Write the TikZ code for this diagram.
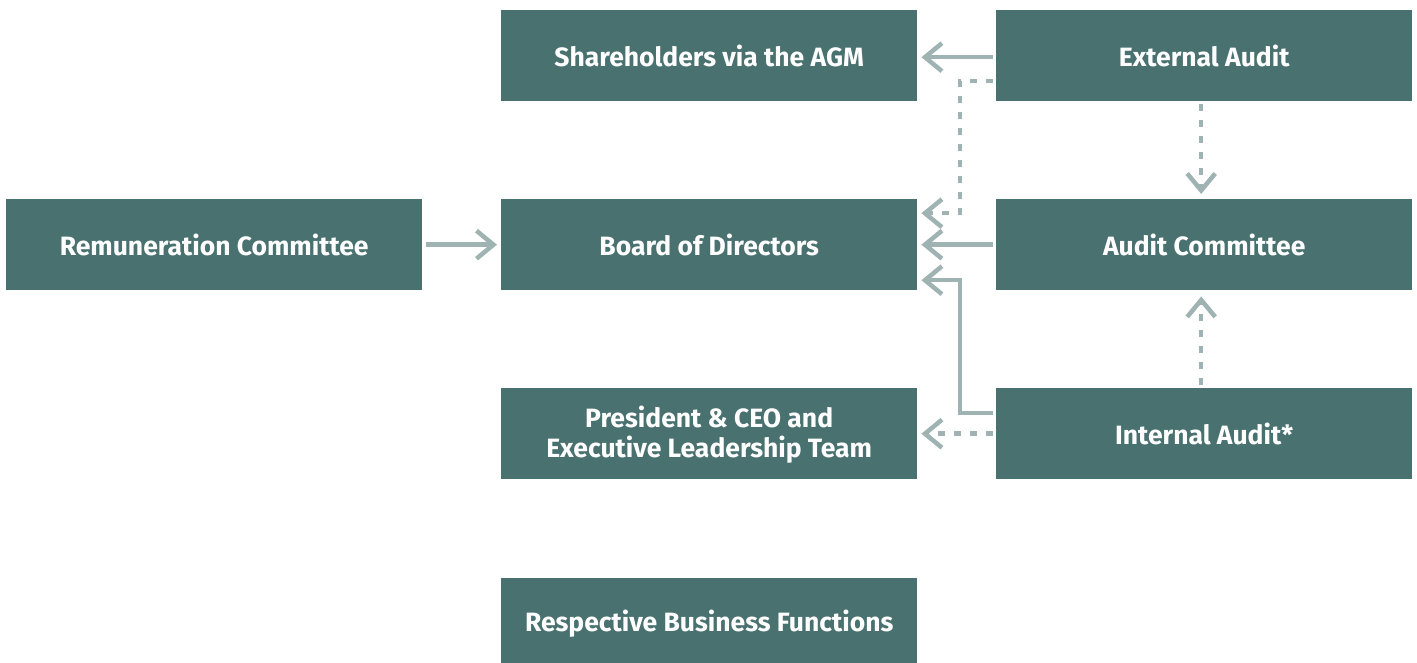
\documentclass[tikz,border=0pt]{standalone}
\usepackage{fontspec}
\setmainfont{Fira Sans}
\usetikzlibrary{arrows.meta,positioning,calc}
\definecolor{boxfill}{HTML}{497170}
\definecolor{arrowcol}{HTML}{9FB3B3}
\begin{document}
\begin{tikzpicture}[x=1pt,y=-1pt,
  orgbox/.style={fill=boxfill,text=white,minimum width=416pt,minimum height=91pt,inner sep=0pt,
    font=\fontsize{26.5}{30}\selectfont\bfseries,align=center,anchor=north west},
  conn/.style={draw=arrowcol,line width=4.5pt,-{Straight Barb[length=17pt,width=28pt,line width=4.5pt]}},
  dconn/.style={conn,dash pattern=on 7pt off 9pt}]
\useasboundingbox (0,0) rectangle (1417,663);
\clip (0,0) rectangle (1417,663);
\node[orgbox] (share) at (501,10) {Shareholders via the AGM};
\node[orgbox] (ext) at (996,10) {External Audit};
\node[orgbox] (rem) at (6,199) {Remuneration Committee};
\node[orgbox] (board) at (501,199) {Board of Directors};
\node[orgbox] (audit) at (996,199) {Audit Committee};
\node[orgbox] (pres) at (501,388) {\rule{0pt}{24pt}President \& CEO and\\Executive Leadership Team};
\node[orgbox] (int) at (996,388) {Internal Audit*};
\node[orgbox] (resp) at (501,578) {Respective Business Functions};
% connectors
\draw[conn] ([xshift=-3pt,yshift=-1.5pt]ext.west) -- ([xshift=4pt,yshift=-1.5pt]share.east);
\draw[dconn] ([xshift=-3pt,yshift=-25.5pt]ext.west) -- ++(-33,0) |- ([xshift=4pt,yshift=31.5pt]board.east);
\draw[dconn] ([xshift=-3pt,yshift=-3pt]ext.south) -- ([xshift=-3pt,yshift=5pt]audit.north);
\draw[conn] ([xshift=-3pt]audit.west) -- ([xshift=4pt]board.east);
\draw[conn] ([xshift=4pt]rem.east) -- ([xshift=-4pt]board.west);
\draw[conn] ([xshift=-3pt,yshift=20.5pt]int.west) -- ++(-33,0) |- ([xshift=4pt,yshift=-35.5pt]board.east);
\draw[dconn] ([xshift=-3pt]int.west) -- ([xshift=4pt]pres.east);
\draw[dconn] ([xshift=-3pt,yshift=3pt]int.north) -- ([xshift=-3pt,yshift=-6pt]audit.south);
\end{tikzpicture}
\end{document}
